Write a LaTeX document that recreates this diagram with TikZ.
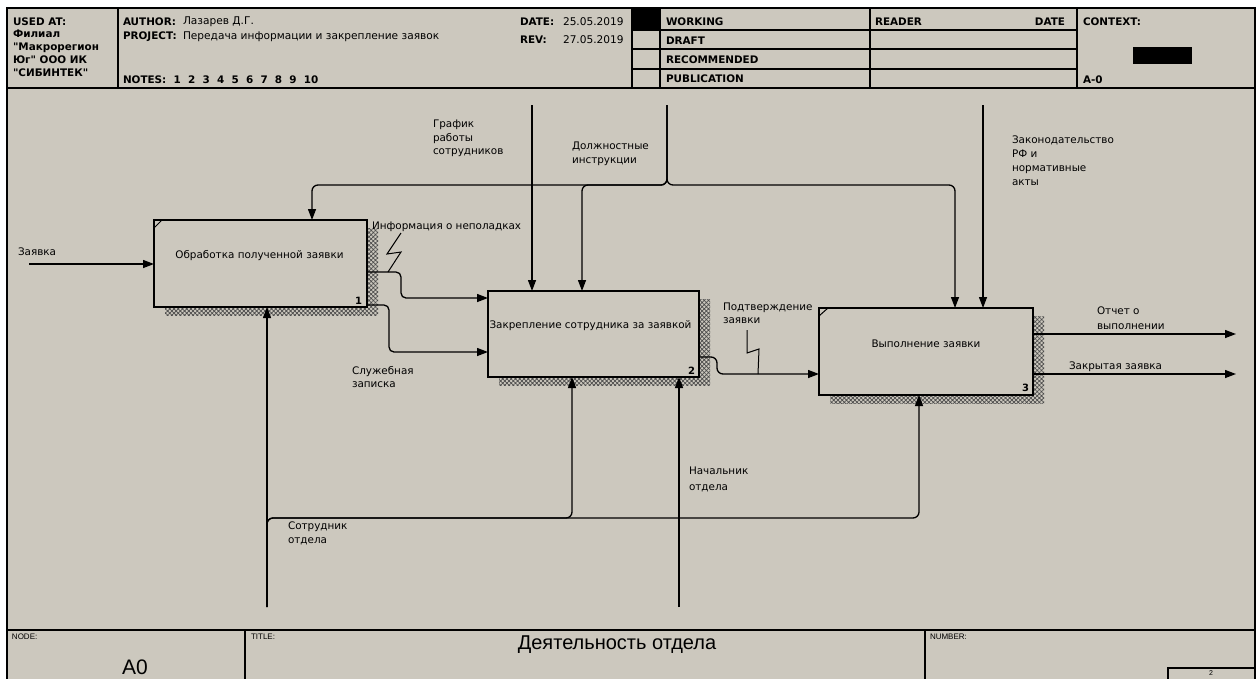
\documentclass[tikz,border=0pt]{standalone}
\usepackage{fontspec}
\setmainfont{DejaVu Sans}[Ligatures=TeXOff]
\newfontfamily\lib{Liberation Sans}[Ligatures=TeXOff]
\usetikzlibrary{arrows.meta,patterns.meta,backgrounds}
\definecolor{bg}{RGB}{204,200,190}
\begin{document}
\begin{tikzpicture}[x=1pt,y=-1pt,
  every node/.style={inner sep=0pt,outer sep=0pt},
  lbl/.style={anchor=west,font=\fontsize{10.4}{14}\selectfont,align=left},
  mlbl/.style={anchor=north west,font=\fontsize{10.4}{#1}\selectfont,align=left},
  hdr/.style={anchor=west,font=\fontsize{10.4}{12}\selectfont\bfseries},
  hval/.style={anchor=west,font=\fontsize{10.6}{12}\selectfont},
  btxt/.style={font=\fontsize{10.4}{12}\selectfont},
  frm/.style={line width=2pt},
  proc/.style={draw,fill=bg,line width=1.4pt,minimum width=#1},
  shadow/.style={pattern={Hatch[angle=45,distance=3pt,line width=0.7pt]},pattern color=black!70},
  arr/.style={line width=1.3pt,-{Triangle[length=11pt,width=8pt]}},
  con/.style={line width=1.3pt},
  sq/.style={line width=1pt},
  num/.style={font=\fontsize{10}{12}\selectfont\bfseries}]
\useasboundingbox (0,0) rectangle (1260,678);
% ---------- boxes ----------
\node[proc=213pt,minimum height=87pt] (b1) at (260.5,263.5) {};
\node[proc=211pt,minimum height=86pt] (b2) at (593.5,334) {};
\node[proc=214pt,minimum height=87pt] (b3) at (926,351.5) {};
\begin{scope}[on background layer]
  \fill[white] (0,0) rectangle (1260,678);
  \fill[bg] (7,8) rectangle (1255,700);
  \foreach \b in {b1,b2,b3}{
    \fill[shadow] ([shift={(11,8)}]\b.north west) rectangle ([shift={(11,8)}]\b.south east);
  }
\end{scope}
\node[btxt] (t1) at ([shift={(-1,-8)}]b1.center) {Обработка полученной заявки};
\node[btxt] (t2) at ([shift={(-3,-8)}]b2.center) {Закрепление сотрудника за заявкой};
\node[btxt] (t3) at ([shift={(0,-8)}]b3.center) {Выполнение заявки};
\node[num,anchor=south east] (n1) at ([shift={(-5,-3)}]b1.south east) {1};
\node[num,anchor=south east] (n2) at ([shift={(-4,-3)}]b2.south east) {2};
\node[num,anchor=south east] (n3) at ([shift={(-4,-3)}]b3.south east) {3};
\draw[line width=1pt] ([shift={(0,8)}]b1.north west) -- ([shift={(8,0)}]b1.north west);
\draw[line width=1pt] ([shift={(0,8)}]b3.north west) -- ([shift={(9,0)}]b3.north west);
% ---------- frame ----------
\draw[frm] (7,700) -- (7,8) -- (1255,8) -- (1255,700);
\draw[frm] (7,88) -- (1255,88);
\foreach \x in {118,632,660,870,1077} \draw[frm] (\x,8) -- (\x,88);
\foreach \y in {30,49,69} \draw[frm] (632,\y) -- (1077,\y);
\fill (632,8) rectangle (660,30);
\fill (1133,47) rectangle (1192,64);
\draw[frm] (7,630) -- (1255,630);
\draw[frm] (245,630) -- (245,700);
\draw[frm] (925,630) -- (925,700);
\draw[frm] (1168,700) -- (1168,668) -- (1255,668);
% ---------- header text ----------
\node[anchor=north west,align=left,font=\fontsize{10.4}{12.7}\selectfont\bfseries] (used) at (13,17.5)
  {USED AT:\\Филиал\\"Макрорегион\\Юг" ООО ИК\\"СИБИНТЕК"};
\node[hdr] (auth) at (123,22) {AUTHOR:};
\node[hval] (authv) at (183,22) {Лазарев Д.Г.};
\node[hdr] (proj) at (123,37) {PROJECT:};
\node[hval] (projv) at (183,37) {Передача информации и закрепление заявок};
\node[hdr] (notes) at (123,80) {NOTES:\ \ 1\ \ 2\ \ 3\ \ 4\ \ 5\ \ 6\ \ 7\ \ 8\ \ 9\ \ 10};
\node[hdr] (date) at (520,22) {DATE:};
\node[hval] (datev) at (563,22) {25.05.2019};
\node[hdr] (rev) at (520,40) {REV:};
\node[hval] (revv) at (563,40) {27.05.2019};
\node[hdr] (s1) at (666,22) {WORKING};
\node[hdr] (s2) at (666,41) {DRAFT};
\node[hdr] (s3) at (666,60) {RECOMMENDED};
\node[hdr] (s4) at (666,79) {PUBLICATION};
\node[hdr] (rd) at (875,22) {READER};
\node[hdr,anchor=east] (rdd) at (1065,22) {DATE};
\node[hdr] (ctx) at (1083,22) {CONTEXT:};
\node[hdr] (a0) at (1083,80) {A-0};
% ---------- footer text ----------
\node[anchor=west,font=\lib\fontsize{8}{9}\selectfont] (fn) at (12,637) {NODE:};
\node[anchor=west,font=\lib\fontsize{8}{9}\selectfont] (ft) at (251,637) {TITLE:};
\node[anchor=west,font=\lib\fontsize{8}{9}\selectfont] (fnum) at (930,637) {NUMBER:};
\node[font=\lib\fontsize{20}{22}\selectfont] (title) at (617,645) {Деятельность отдела};
\node[font=\lib\fontsize{21}{22}\selectfont] (nodeA0) at (135,667) {A0};
\node[font=\lib\fontsize{7}{8}\selectfont] (pg) at (1211,673.5) {2};
% ---------- connectors ----------
\coordinate (inZ) at (29,264);
\draw[arr] (inZ) -- (inZ -| b1.west);
\node[lbl] (lZ) at (18,252) {Заявка};
% controls
\coordinate (tG) at (532,105);
\draw[arr] (tG) -- (tG |- b2.north);
\coordinate (tD) at (667,105);
\coordinate (jD) at (667,185);
\coordinate (c1) at (312,185);
\coordinate (c2) at (582,185);
\coordinate (c3) at (955,185);
\draw[arr,rounded corners=6pt] (tD) -- (jD) -- (c1) -- (c1 |- b1.north);
\draw[arr,rounded corners=6pt] (tD) -- (jD) -- (c2) -- (c2 |- b2.north);
\draw[arr,rounded corners=6pt] (tD) -- (jD) -- (c3) -- (c3 |- b3.north);
\coordinate (tL) at (983,105);
\draw[arr] (tL) -- (tL |- b3.north);
\node[mlbl=13.5] (lG) at (433,120) {График\\работы\\сотрудников};
\node[mlbl=14] (lD) at (572,142) {Должностные\\инструкции};
\node[mlbl=14] (lL) at (1012,136) {Законодательство\\РФ и\\нормативные\\акты};
% outputs box 1
\draw[arr,rounded corners=5pt] (b1.east |- 0,272) -- (401,272) -- (401,298) -- (b2.west |- 0,298);
\draw[arr,rounded corners=5pt] (b1.east |- 0,305) -- (389,305) -- (389,352) -- (b2.west |- 0,352);
\draw[sq] (401,233) -- (387,254) -- (401,252) -- (388,272);
\node[lbl] (lI) at (372,227) {Информация о неполадках};
\node[mlbl=13] (lS) at (352,366) {Служебная\\записка};
% box 2 -> box 3
\draw[arr,rounded corners=6pt] (b2.east |- 0,357) -- (717,357) -- (717,374) -- (b3.west |- 0,374);
\draw[sq] (747,330) -- (747,353) -- (759,349) -- (758,374);
\node[mlbl=13] (lP) at (723,303) {Подтверждение\\заявки};
% outputs box 3
\coordinate (oA) at (1236,334);
\coordinate (oB) at (1236,374);
\draw[arr] (b3.east |- oA) -- (oA);
\draw[arr] (b3.east |- oB) -- (oB);
\node[mlbl=15] (lO) at (1097,307) {Отчет о\\выполнении};
\node[lbl] (lC) at (1069,367) {Закрытая заявка};
% mechanisms
\coordinate (mS) at (267,607);
\coordinate (jS) at (267,518);
\coordinate (k2) at (572,518);
\coordinate (k3) at (919,518);
\draw[arr] (mS) -- (mS |- b1.south);
\draw[arr,rounded corners=6pt] (mS) -- (jS) -- (k2) -- (k2 |- b2.south);
\draw[arr,rounded corners=6pt] (mS) -- (jS) -- (k3) -- (k3 |- b3.south);
\coordinate (mN) at (679,607);
\draw[arr] (mN) -- (mN |- b2.south);
\node[mlbl=14] (lSo) at (288,522) {Сотрудник\\отдела};
\node[mlbl=16] (lN) at (689,467) {Начальник\\отдела};
\end{tikzpicture}
\end{document}
